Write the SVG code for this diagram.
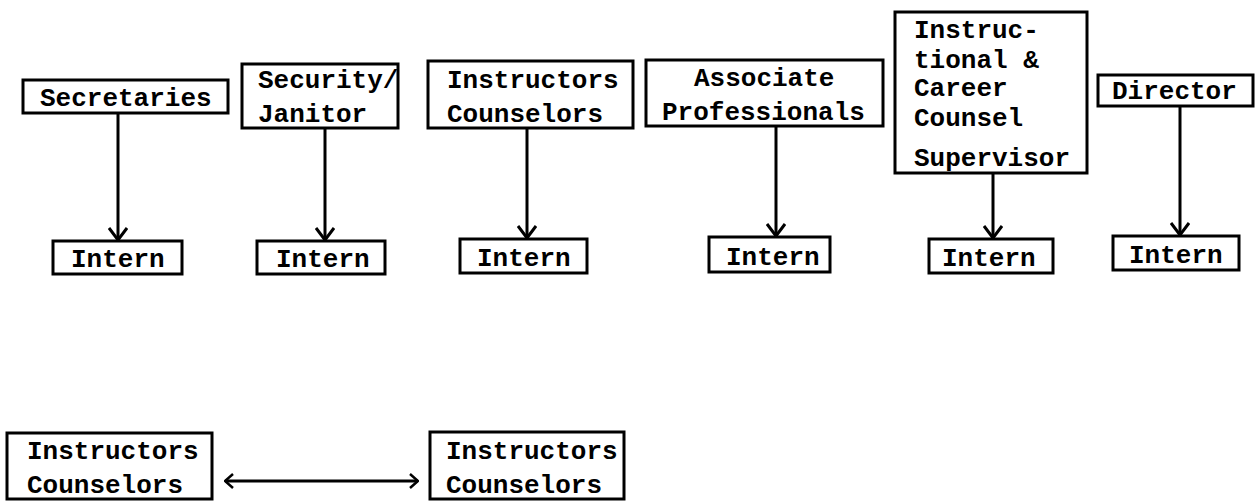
<svg xmlns="http://www.w3.org/2000/svg" width="1259" height="501" viewBox="0 0 1259 501">
  <style>
    .box { fill: #fff; stroke: #000; stroke-width: 3; }
    .lbl { font-family: "Liberation Mono", "Courier New", monospace; font-weight: bold; font-size: 26px; fill: #000; }
    .link { fill: none; stroke: #000; stroke-width: 3; }
  </style>
  <defs>
    <marker id="head" viewBox="0 0 14 20" refX="13" refY="10" markerWidth="14" markerHeight="20" markerUnits="userSpaceOnUse" orient="auto-start-reverse">
      <path d="M1,1 L13,10 L1,19" fill="none" stroke="#000" stroke-width="3"/>
    </marker>
    <marker id="headSmall" viewBox="0 0 10 16" refX="9" refY="8" markerWidth="10" markerHeight="16" markerUnits="userSpaceOnUse" orient="auto-start-reverse">
      <path d="M1,1 L9,8 L1,15" fill="none" stroke="#000" stroke-width="2.5"/>
    </marker>
  </defs>
  <rect width="1259" height="501" fill="#fff"/>

  <!-- connectors -->
  <g id="connectors">
    <line class="link" x1="118" y1="113" x2="118" y2="240" marker-end="url(#head)"/>
    <line class="link" x1="325" y1="128" x2="325" y2="240" marker-end="url(#head)"/>
    <line class="link" x1="527" y1="128" x2="527" y2="238" marker-end="url(#head)"/>
    <line class="link" x1="776" y1="126" x2="776" y2="236" marker-end="url(#head)"/>
    <line class="link" x1="993" y1="173" x2="993" y2="238" marker-end="url(#head)"/>
    <line class="link" x1="1180" y1="106" x2="1180" y2="235" marker-end="url(#head)"/>
    <line class="link" x1="225" y1="481" x2="418" y2="481" marker-start="url(#headSmall)" marker-end="url(#headSmall)"/>
  </g>

  <!-- top row -->
  <g id="secretaries">
    <rect class="box" x="23" y="80" width="205" height="33"/>
    <text class="lbl" x="40" y="106">Secretaries</text>
  </g>
  <g id="security-janitor">
    <rect class="box" x="242" y="64" width="156" height="64"/>
    <text class="lbl" x="258" y="88">Security/</text>
    <text class="lbl" x="258" y="122">Janitor</text>
  </g>
  <g id="instructors-counselors">
    <rect class="box" x="428" y="61" width="205" height="67"/>
    <text class="lbl" x="447" y="88">Instructors</text>
    <text class="lbl" x="447" y="122">Counselors</text>
  </g>
  <g id="associate-professionals">
    <rect class="box" x="646" y="60" width="237" height="66"/>
    <text class="lbl" x="694" y="86">Associate</text>
    <text class="lbl" x="662" y="120">Professionals</text>
  </g>
  <g id="career-counsel-supervisor">
    <rect class="box" x="895" y="12" width="192" height="161"/>
    <text class="lbl" x="914" y="38">Instruc-</text>
    <text class="lbl" x="914" y="68">tional &amp;</text>
    <text class="lbl" x="914" y="96">Career</text>
    <text class="lbl" x="914" y="126">Counsel</text>
    <text class="lbl" x="914" y="166">Supervisor</text>
  </g>
  <g id="director">
    <rect class="box" x="1098" y="75" width="155" height="31"/>
    <text class="lbl" x="1112" y="99">Director</text>
  </g>

  <!-- intern row -->
  <g id="intern-1">
    <rect class="box" x="53" y="241" width="129" height="33"/>
    <text class="lbl" x="71" y="267">Intern</text>
  </g>
  <g id="intern-2">
    <rect class="box" x="257" y="241" width="128" height="33"/>
    <text class="lbl" x="276" y="267">Intern</text>
  </g>
  <g id="intern-3">
    <rect class="box" x="460" y="239" width="127" height="34"/>
    <text class="lbl" x="477" y="266">Intern</text>
  </g>
  <g id="intern-4">
    <rect class="box" x="709" y="237" width="121" height="35"/>
    <text class="lbl" x="726" y="265">Intern</text>
  </g>
  <g id="intern-5">
    <rect class="box" x="929" y="239" width="124" height="34"/>
    <text class="lbl" x="942" y="266">Intern</text>
  </g>
  <g id="intern-6">
    <rect class="box" x="1113" y="236" width="126" height="34"/>
    <text class="lbl" x="1129" y="263">Intern</text>
  </g>

  <!-- peer pair -->
  <g id="peer-left">
    <rect class="box" x="7" y="433" width="205" height="66"/>
    <text class="lbl" x="27" y="459">Instructors</text>
    <text class="lbl" x="27" y="493">Counselors</text>
  </g>
  <g id="peer-right">
    <rect class="box" x="430" y="432" width="194" height="67"/>
    <text class="lbl" x="446" y="459">Instructors</text>
    <text class="lbl" x="446" y="493">Counselors</text>
  </g>
</svg>
